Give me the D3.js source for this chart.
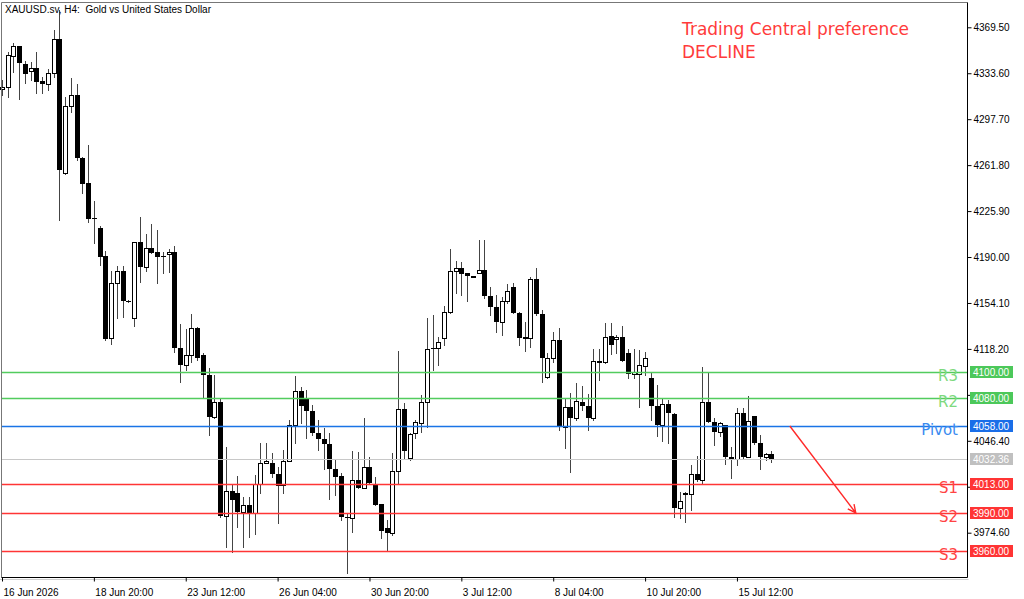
<!DOCTYPE html>
<html>
<head>
<meta charset="utf-8">
<script src="https://cdn.jsdelivr.net/npm/d3@7"></script>
<style>
body{margin:0;background:#fff;}
svg{display:block;font-family:"Liberation Sans",Arial,sans-serif;}
</style>
</head>
<body>
<div id="chart"></div>
<script>
'use strict'
// XAUUSD H4 candles, one entry per bar
let opens = [4321.1,4322.7,4346.9,4354.7,4340.7,4335.2,4337.5,4327.4,4325.0,4333.6,
  4360.2,4255.6,4307.9,4316.5,4267.3,4247.8,4220.3,4212.7,4190.8,4126.8,
  4169.7,4179.1,4155.7,4142.4,4201.7,4182.2,4197.1,4193.9,4190.6,4192.4,
  4193.9,4119.0,4105.7,4113.5,4134.6,4113.5,4098.0,4065.2,4076.9,3987.9,
  4007.4,4005.9,3991.0,3996.5,3990.3,4012.9,4029.3,4029.3,4020.7,4012.1,
  4030.8,4058.9,4085.5,4080.0,4069.9,4052.7,4048.0,4044.1,4024.6,4019.1,
  3987.1,3986.4,4016.0,4009.8,4026.2,4012.9,3997.3,3978.6,3974.7,4023.0,
  4071.4,4033.2,4052.7,4060.5,4076.9,4119.0,4119.0,4126.8,4147.1,4179.1,
  4181.5,4177.6,4175.0,4177.6,4179.9,4159.6,4151.0,4139.3,4155.7,4166.6,
  4146.3,4127.6,4126.8,4172.9,4145.5,4096.4,4111.2,4125.3,4057.4,4073.0,
  4064.4,4076.9,4073.8,4064.4,4108.1,4108.1,4128.4,4126.0,4127.6,4115.1,
  4098.7,4098.7,4105.0,4095.6,4073.8,4058.9,4075.3,4067.5,3994.2,4005.1,
  4005.1,4020.7,4016.0,4076.9,4061.3,4053.5,4058.9,4033.9,4032.4,4068.3,
  4033.9,4066.0,4044.9,4033.9,4036.3];
let highs = [4328.2,4350.0,4357.0,4354.9,4343.0,4342.2,4350.0,4330.5,4336.8,4367.2,
  4382.8,4314.9,4329.7,4325.0,4268.0,4277.4,4233.7,4214.2,4194.7,4179.1,
  4183.0,4183.0,4156.5,4202.0,4221.3,4208.0,4215.8,4211.1,4193.9,4196.3,
  4198.6,4137.8,4133.9,4145.6,4135.4,4115.1,4103.4,4098.0,4080.0,4041.8,
  4012.1,4019.1,4002.7,4002.7,4019.9,4044.9,4044.9,4037.1,4026.2,4039.4,
  4062.8,4097.2,4088.6,4086.2,4074.5,4062.8,4056.6,4052.7,4031.6,4021.5,
  3990.3,4038.6,4037.9,4064.4,4033.9,4018.3,3997.3,3984.8,4037.1,4116.7,
  4076.1,4052.7,4062.8,4082.3,4142.4,4144.8,4127.6,4151.8,4196.3,4186.9,
  4186.1,4177.8,4175.4,4203.3,4203.3,4166.6,4160.4,4158.8,4169.0,4169.7,
  4147.1,4139.3,4174.4,4181.5,4148.7,4115.1,4131.5,4134.6,4080.0,4083.9,
  4091.7,4089.4,4083.1,4118.2,4118.2,4138.5,4138.5,4129.2,4136.2,4118.2,
  4118.2,4117.5,4115.9,4100.3,4090.1,4080.0,4078.4,4068.3,4006.6,4006.6,
  4027.7,4034.7,4104.2,4100.3,4064.4,4061.3,4058.9,4041.8,4072.2,4072.2,
  4081.6,4066.0,4051.1,4037.1,4038.6];
let lows = [4316.5,4314.9,4334.4,4313.3,4325.8,4328.2,4318.0,4318.0,4320.4,4330.5,
  4218.9,4255.0,4303.2,4265.7,4240.0,4217.3,4200.9,4183.8,4125.3,4122.1,
  4142.4,4143.2,4155.0,4136.2,4170.5,4179.1,4193.2,4169.7,4177.6,4178.3,
  4115.9,4092.5,4101.9,4108.1,4109.7,4080.8,4051.1,4064.4,3987.1,3963.7,
  3959.8,3979.3,3963.7,3971.5,3973.9,4005.9,4029.0,4018.3,3982.5,4005.9,
  4030.5,4044.9,4060.5,4048.8,4051.1,4039.4,4024.6,4001.2,4004.3,3984.8,
  3943.4,3975.4,4009.8,4009.5,4013.7,3996.5,3970.7,3960.6,3973.1,4013.7,
  4033.2,4031.6,4048.8,4053.5,4057.4,4101.9,4105.7,4121.4,4146.3,4162.0,
  4160.4,4155.7,4174.8,4177.4,4158.0,4144.8,4131.5,4129.2,4154.1,4146.3,
  4121.4,4116.7,4119.8,4144.8,4092.5,4095.6,4108.1,4055.0,4041.0,4022.2,
  4062.8,4070.6,4055.0,4062.8,4094.0,4107.3,4114.3,4115.1,4108.9,4095.6,
  4095.6,4073.0,4098.0,4062.8,4050.4,4046.4,4044.9,3987.1,3986.4,3983.2,
  3992.6,4015.2,4013.7,4061.3,4043.3,4050.4,4028.5,4017.6,4027.7,4032.4,
  4033.9,4044.1,4024.6,4031.6,4030.1];
let closes = [4322.7,4347.7,4354.7,4341.4,4332.9,4337.5,4326.6,4325.0,4333.6,4360.2,
  4257.9,4307.9,4316.5,4267.3,4247.0,4219.7,4219.5,4190.0,4126.0,4169.7,
  4179.1,4155.7,4155.5,4201.7,4182.2,4197.1,4193.2,4190.0,4190.2,4193.9,
  4119.0,4105.7,4113.5,4134.6,4111.2,4098.0,4065.2,4076.9,3987.9,4007.4,
  4000.4,3991.0,3996.5,3990.3,4012.9,4029.3,4030.8,4020.7,4011.3,4030.8,
  4058.9,4085.5,4073.8,4069.9,4052.7,4048.0,4044.1,4024.6,4018.3,3987.1,
  3986.4,4016.0,4009.8,4026.2,4013.7,3996.5,3976.2,3974.7,4023.0,4071.4,
  4038.6,4051.9,4061.3,4076.9,4118.2,4118.8,4123.7,4147.1,4179.1,4181.5,
  4176.8,4175.2,4175.2,4179.9,4159.6,4151.0,4139.3,4155.7,4163.5,4146.3,
  4126.8,4126.0,4172.9,4145.5,4111.2,4111.2,4125.3,4057.4,4073.0,4064.4,
  4077.7,4073.8,4064.4,4108.9,4108.9,4127.6,4121.4,4127.6,4108.9,4098.7,
  4100.3,4105.7,4111.2,4073.8,4058.9,4075.3,4068.3,3994.2,3999.6,4005.9,
  4020.7,4016.0,4076.9,4061.3,4053.5,4060.5,4033.9,4032.4,4068.3,4033.9,
  4062.0,4044.9,4033.9,4036.3,4032.36];

let dateLabels = ['16 Jun 2026','18 Jun 20:00','23 Jun 12:00','26 Jun 04:00','30 Jun 20:00',
  '3 Jul 12:00','8 Jul 04:00','10 Jul 20:00','15 Jul 12:00'];
let dateBars = [0,16,32,48,64,80,96,112,128];
let priceTicks = [3974.60,4010.50,4046.40,4082.30,4118.20,4154.10,4190.00,4225.90,4261.80,4297.70,4333.60,4369.50];

let levelNames = ['R3','R2','Pivot','S1','S2','S3'];
let levelValues = [4100,4080,4058,4013,3990,3960];
let lastPrice = 4032.36;
// arrow from pivot down towards S2 (bar index, price)
let arrowStart = [137.2, 4058];
let arrowEnd = [148.7, 3990];

let levelStyle = {
  R3:{line:'#52cc5e', text:'#7ed97e', box:'#4cc85a'},
  R2:{line:'#52cc5e', text:'#7ed97e', box:'#4cc85a'},
  Pivot:{line:'#1a74e6', text:'#3a8bf0', box:'#1a6ee8'},
  S1:{line:'#ff3535', text:'#ff4444', box:'#ff3434'},
  S2:{line:'#ff3535', text:'#ff4444', box:'#ff3434'},
  S3:{line:'#ff3535', text:'#ff4444', box:'#ff3434'}
};

let width = 1024, height = 599;
let plotLeft = 1.5, plotTop = 2.5, plotRight = 967.5, plotBottom = 577.5;

let x = d3.scaleLinear().domain([0, 134]).range([2, 771.4]);
let y = d3.scaleLinear().domain([3974.6, 4369.5]).range([532.7, 27.3]);

let svg = d3.select('#chart')
  .append('svg')
  .attr('width', width)
  .attr('height', height);

svg.append('rect').attr('width', width).attr('height', height).attr('fill', '#fff');

let px = v => Math.round(v) + 0.5;

// candles
let candles = svg.append('g').attr('class', 'candles');
let bars = d3.range(opens.length);
candles.selectAll('line.wick')
  .data(bars)
  .enter().append('line')
  .attr('class', 'wick')
  .attr('x1', i => px(x(i)))
  .attr('x2', i => px(x(i)))
  .attr('y1', i => Math.round(y(highs[i])))
  .attr('y2', i => Math.round(y(lows[i])) + 1)
  .attr('stroke', '#444')
  .attr('stroke-width', 1);

candles.selectAll('rect.body')
  .data(bars)
  .enter().append('rect')
  .attr('class', 'body')
  .attr('x', i => closes[i] > opens[i] ? px(x(i)) - 2 : Math.round(x(i)) - 2)
  .attr('y', function(i) {
    let t = Math.round(y(Math.max(opens[i], closes[i])));
    return closes[i] > opens[i] ? t + 0.5 : t;
  })
  .attr('width', i => closes[i] > opens[i] ? 4 : 5)
  .attr('height', function(i) {
    let t = Math.round(y(Math.max(opens[i], closes[i])));
    let b = Math.round(y(Math.min(opens[i], closes[i])));
    return Math.max(1, b - t);
  })
  .attr('fill', i => closes[i] > opens[i] ? '#fff' : '#000')
  .attr('stroke', i => closes[i] > opens[i] ? '#000' : 'none')
  .attr('stroke-width', 1);

// current price line
svg.append('line')
  .attr('x1', plotLeft).attr('x2', plotRight)
  .attr('y1', px(y(lastPrice))).attr('y2', px(y(lastPrice)))
  .attr('stroke', '#c8c8c8');

// pivot levels
let levels = svg.append('g').attr('class', 'levels');
levelNames.forEach(function(name, k) {
  let ly = px(y(levelValues[k]));
  levels.append('line')
    .attr('x1', plotLeft).attr('x2', plotRight)
    .attr('y1', ly).attr('y2', ly)
    .attr('stroke', levelStyle[name].line)
    .attr('stroke-width', 1.4);
  levels.append('text')
    .attr('x', 958).attr('y', ly + 8)
    .attr('text-anchor', 'end')
    .style('font-family', '"DejaVu Sans", sans-serif')
    .style('font-size', '15px')
    .attr('fill', levelStyle[name].text)
    .text(name);
});

// arrow
let ax1 = x(arrowStart[0]), ay1 = y(arrowStart[1]);
let ax2 = x(arrowEnd[0]), ay2 = y(arrowEnd[1]);
let ang = Math.atan2(ay2 - ay1, ax2 - ax1);
let headLen = 9, spread = 0.45;
svg.append('path')
  .attr('d', 'M' + ax1 + ',' + ay1 + 'L' + ax2 + ',' + ay2 +
    'M' + (ax2 - headLen * Math.cos(ang - spread)) + ',' + (ay2 - headLen * Math.sin(ang - spread)) +
    'L' + ax2 + ',' + ay2 +
    'L' + (ax2 - headLen * Math.cos(ang + spread)) + ',' + (ay2 - headLen * Math.sin(ang + spread)))
  .attr('fill', 'none')
  .attr('stroke', '#ff2a2a')
  .attr('stroke-width', 1.4);

// frame
svg.append('path')
  .attr('d', 'M' + plotLeft + ',' + plotBottom + 'V' + plotTop + 'H' + plotRight)
  .attr('fill', 'none').attr('stroke', '#777');
svg.append('path')
  .attr('d', 'M' + plotRight + ',' + plotTop + 'V' + plotBottom + 'H' + plotLeft)
  .attr('fill', 'none').attr('stroke', '#000');
svg.append('line')
  .attr('x1', 0).attr('x2', plotRight + 1)
  .attr('y1', plotBottom + 2).attr('y2', plotBottom + 2)
  .attr('stroke', '#d0d0d0');

// price axis
let yAxis = d3.axisRight(y)
  .tickValues(priceTicks)
  .tickSize(4)
  .tickPadding(2)
  .tickFormat(d3.format('.2f'));
let yAxisGroup = svg.append('g')
  .attr('transform', 'translate(' + plotRight + ',0)')
  .call(yAxis);
yAxisGroup.select('.domain').remove();
yAxisGroup.selectAll('text')
  .style('font-family', '"Liberation Sans", Arial, sans-serif')
  .style('font-size', '10px')
  .attr('fill', '#000');
yAxisGroup.selectAll('line').attr('stroke', '#000');
// labels sitting under a price box are covered in the terminal, leave them out
let boxPrices = levelValues.concat([lastPrice]);
yAxisGroup.selectAll('.tick text')
  .filter(d => boxPrices.some(v => Math.abs(y(v) - y(d)) < 10))
  .remove();

// time axis
let xAxis = d3.axisBottom(x)
  .tickValues(dateBars)
  .tickSize(4)
  .tickPadding(7)
  .tickFormat((d, i) => dateLabels[i]);
let xAxisGroup = svg.append('g')
  .attr('transform', 'translate(0,' + plotBottom + ')')
  .call(xAxis);
xAxisGroup.select('.domain').remove();
xAxisGroup.selectAll('text')
  .attr('text-anchor', 'start')
  .attr('x', 1)
  .style('font-family', '"Liberation Sans", Arial, sans-serif')
  .style('font-size', '10px')
  .attr('fill', '#000');
xAxisGroup.selectAll('line').attr('stroke', '#000');

// price boxes on the axis
let boxes = svg.append('g').attr('class', 'boxes');
let boxData = levelNames.map((n, k) => ({v: levelValues[k], fill: levelStyle[n].box}))
  .concat([{v: lastPrice, fill: '#c0c0c0'}]);
boxData.forEach(function(b) {
  let by = Math.round(y(b.v));
  boxes.append('rect')
    .attr('x', 970).attr('y', by - 6)
    .attr('width', 43).attr('height', 12)
    .attr('fill', b.fill);
  boxes.append('text')
    .attr('x', 973).attr('y', by + 3.5)
    .style('font-size', '10px')
    .attr('fill', '#fff')
    .text(d3.format('.2f')(b.v));
});

// title
svg.append('text')
  .attr('x', 5).attr('y', 13)
  .style('font-size', '10px')
  .style('white-space', 'pre')
  .attr('fill', '#000')
  .text('XAUUSD.sv, H4:  Gold vs United States Dollar');

// trading central note
let note = svg.append('g')
  .style('font-family', '"DejaVu Sans", sans-serif')
  .style('font-size', '17px')
  .attr('fill', '#ff3b3b');
note.append('text').attr('x', 682).attr('y', 35).text('Trading Central preference');
note.append('text').attr('x', 682).attr('y', 58).text('DECLINE');
</script>
</body>
</html>
